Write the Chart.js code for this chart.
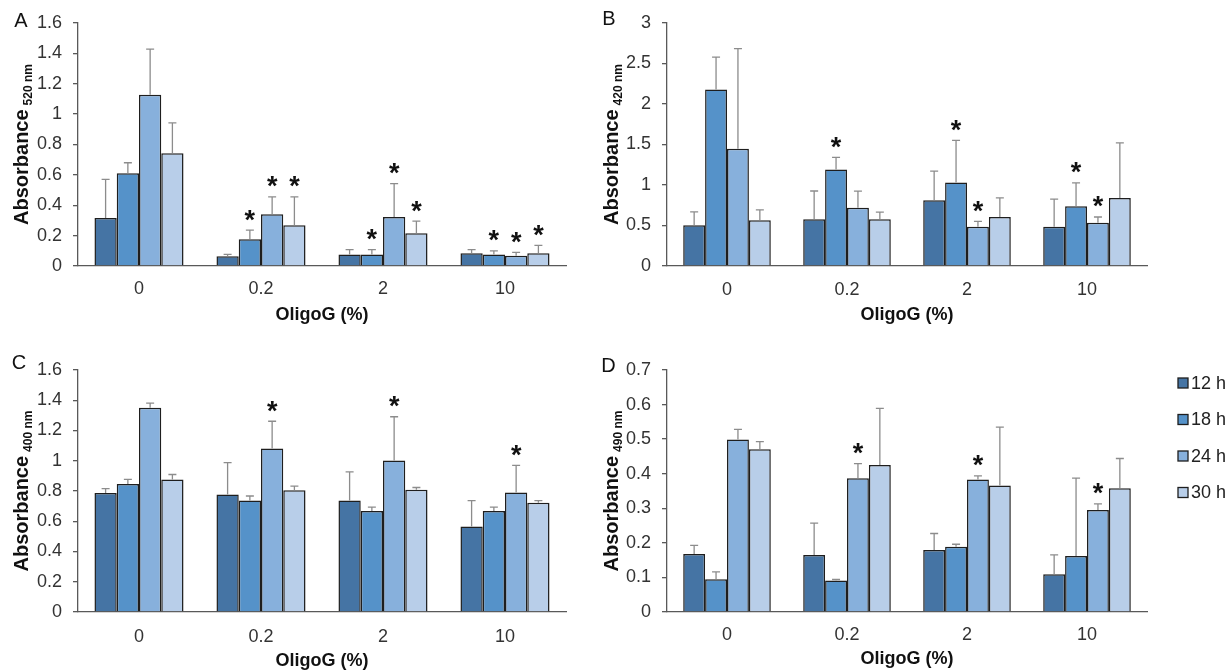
<!DOCTYPE html>
<html>
<head>
<meta charset="utf-8">
<title>OligoG absorbance</title>
<script src="https://cdn.jsdelivr.net/npm/chart.js@4.4.1/dist/chart.umd.min.js"></script>
<style>
  html, body { margin: 0; padding: 0; background: #fff; }
  body { width: 1231px; height: 672px; position: relative; overflow: hidden; }
  canvas { position: absolute; }
</style>
</head>
<body>
<canvas id="chartA" width="580" height="330" style="left:0;top:0"></canvas>
<canvas id="chartB" width="580" height="330" style="left:590px;top:0"></canvas>
<canvas id="chartC" width="580" height="337" style="left:0;top:335px"></canvas>
<canvas id="chartD" width="641" height="337" style="left:590px;top:335px"></canvas>
<script>
Chart.defaults.font.family = "'Liberation Sans', Arial, sans-serif";
Chart.defaults.color = '#333';
Chart.defaults.animation = false;

const FONT = "'Liberation Sans', Arial, sans-serif";

const oligoLevels = ['0', '0.2', '2', '10'];
const timePoints = ['12 h', '18 h', '24 h', '30 h'];
const barColors = ['#4574a4', '#5592c9', '#87b0dc', '#b8cee9'];

// rows = time point (12, 18, 24, 30 h), columns = OligoG level
// A - 520 nm
const meanA = [
  [0.316, 0.065, 0.075, 0.084],
  [0.61, 0.176, 0.075, 0.075],
  [1.128, 0.34, 0.323, 0.068],
  [0.742, 0.268, 0.215, 0.084]
];
const errA = [
  [0.255, 0.012, 0.033, 0.024],
  [0.07, 0.06, 0.033, 0.024],
  [0.30, 0.115, 0.22, 0.022],
  [0.20, 0.187, 0.08, 0.052]
];
const starA = [[0, 0, 0, 0], [0, 1, 1, 1], [0, 1, 1, 1], [0, 1, 1, 1]];
const ticksA = [0, 0.2, 0.4, 0.6, 0.8, 1, 1.2, 1.4, 1.6];

// B - 420 nm
const meanB = [
  [0.502, 0.576, 0.811, 0.486],
  [2.178, 1.19, 1.03, 0.737],
  [1.449, 0.72, 0.486, 0.535],
  [0.564, 0.576, 0.605, 0.84]
];
const errB = [
  [0.165, 0.35, 0.36, 0.34],
  [0.40, 0.15, 0.52, 0.29],
  [1.235, 0.205, 0.066, 0.07],
  [0.13, 0.09, 0.235, 0.68]
];
const starB = [[0, 0, 0, 0], [0, 1, 1, 1], [0, 0, 1, 1], [0, 0, 0, 0]];
const ticksB = [0, 0.5, 1, 1.5, 2, 2.5, 3];

// C - 400 nm
const meanC = [
  [0.786, 0.777, 0.737, 0.566],
  [0.847, 0.737, 0.667, 0.667],
  [1.351, 1.081, 1.001, 0.79],
  [0.876, 0.805, 0.808, 0.722]
];
const errC = [
  [0.03, 0.21, 0.19, 0.17],
  [0.03, 0.03, 0.026, 0.026],
  [0.03, 0.18, 0.29, 0.18],
  [0.033, 0.027, 0.015, 0.015]
];
const starC = [[0, 0, 0, 0], [0, 0, 0, 0], [0, 1, 1, 1], [0, 0, 0, 0]];
const ticksC = [0, 0.2, 0.4, 0.6, 0.8, 1, 1.2, 1.4, 1.6];

// D - 490 nm
const meanD = [
  [0.168, 0.165, 0.179, 0.109],
  [0.095, 0.091, 0.189, 0.162],
  [0.499, 0.387, 0.383, 0.295],
  [0.471, 0.425, 0.366, 0.358]
];
const errD = [
  [0.025, 0.092, 0.048, 0.056],
  [0.021, 0.003, 0.007, 0.225],
  [0.029, 0.042, 0.011, 0.018],
  [0.022, 0.164, 0.169, 0.086]
];
const starD = [[0, 0, 0, 0], [0, 0, 0, 0], [0, 1, 1, 1], [0, 0, 0, 0]];
const ticksD = [0, 0.1, 0.2, 0.3, 0.4, 0.5, 0.6, 0.7];

// error bars (upper only) + significance asterisks
const errorBars = {
  id: 'errorBars',
  afterDatasetsDraw(chart) {
    const { ctx } = chart;
    const y = chart.scales.y;
    ctx.save();
    chart.data.datasets.forEach((ds, i) => {
      chart.getDatasetMeta(i).data.forEach((bar, j) => {
        const yTop = y.getPixelForValue(ds.data[j] + ds.errors[j]);
        ctx.strokeStyle = '#8c8c8c';
        ctx.lineWidth = 1.3;
        ctx.beginPath();
        ctx.moveTo(bar.x, bar.y);
        ctx.lineTo(bar.x, yTop);
        ctx.moveTo(bar.x - 4, yTop);
        ctx.lineTo(bar.x + 4, yTop);
        ctx.stroke();
        if (ds.stars[j]) {
          ctx.fillStyle = '#111';
          ctx.font = 'bold 27px ' + FONT;
          ctx.textAlign = 'center';
          ctx.textBaseline = 'middle';
          ctx.fillText('*', bar.x, yTop - 9);
        }
      });
    });
    ctx.restore();
  }
};

// panel letter and y title with subscript wavelength
const panelText = {
  id: 'panelText',
  afterDraw(chart, args, opts) {
    const { ctx, chartArea } = chart;
    ctx.save();
    ctx.fillStyle = '#111';
    ctx.font = '20px ' + FONT;
    ctx.textAlign = 'center';
    ctx.textBaseline = 'middle';
    ctx.fillText(opts.letter, opts.letterPos[0], opts.letterPos[1]);

    const main = 'Absorbance';
    const mainFont = 'bold 20px ' + FONT;
    const subFont = 'bold 12px ' + FONT;
    ctx.font = mainFont;
    const w1 = ctx.measureText(main).width;
    ctx.font = subFont;
    const w2 = ctx.measureText(opts.sub).width;
    const total = w1 + 4 + w2;
    ctx.translate(opts.titleX, (chartArea.top + chartArea.bottom) / 2);
    ctx.rotate(-Math.PI / 2);
    ctx.textAlign = 'left';
    ctx.textBaseline = 'alphabetic';
    ctx.font = mainFont;
    ctx.fillText(main, -total / 2, 0);
    ctx.font = subFont;
    ctx.fillText(opts.sub, -total / 2 + w1 + 4, 4);
    ctx.restore();
  }
};

// legend to the right of panel D
const keyBox = {
  id: 'keyBox',
  afterDraw(chart, args, opts) {
    if (!opts.show) return;
    const { ctx, chartArea } = chart;
    ctx.save();
    ctx.font = '18px ' + FONT;
    ctx.textAlign = 'left';
    ctx.textBaseline = 'middle';
    chart.data.datasets.forEach((ds, i) => {
      const x = chartArea.right + 31;
      const yc = chartArea.top + 13 + i * 36.5;
      ctx.fillStyle = ds.backgroundColor;
      ctx.fillRect(x, yc - 5, 10, 10);
      ctx.strokeStyle = '#1e1e1e';
      ctx.lineWidth = 1.3;
      ctx.strokeRect(x, yc - 5, 10, 10);
      ctx.fillStyle = '#222';
      ctx.fillText(ds.label, x + 13, yc + 1);
    });
    ctx.restore();
  }
};

function buildDatasets(means, errs, stars) {
  return timePoints.map((label, i) => ({
    label: label,
    data: means[i],
    errors: errs[i],
    stars: stars[i],
    backgroundColor: barColors[i],
    borderColor: '#1e1e1e',
    borderWidth: 1.5,
    categoryPercentage: 0.73,
    barPercentage: 1
  }));
}

function createPanel(canvasId, p) {
  const canvas = document.getElementById(canvasId);
  if (!canvas) return null;

  return new Chart(canvas.getContext('2d'), {
    type: 'bar',
    data: {
      labels: oligoLevels,
      datasets: buildDatasets(p.means, p.errs, p.stars)
    },
    options: {
      responsive: false,
      layout: {
        padding: { top: p.area.top, right: canvas.width - p.area.right, left: 0, bottom: 0 }
      },
      plugins: {
        legend: { display: false },
        tooltip: { enabled: false },
        panelText: { letter: p.letter, letterPos: p.letterPos, sub: p.sub, titleX: 28 },
        keyBox: { show: !!p.legend }
      },
      scales: {
        x: {
          grid: { display: false },
          border: { display: true, color: '#595959', width: 1.3 },
          ticks: { font: { size: 18 }, color: '#333', padding: p.tickPad },
          title: {
            display: true,
            text: 'OligoG (%)',
            color: '#111',
            font: { size: 18, weight: 'bold' },
            padding: { top: 0, bottom: p.titlePad }
          },
          afterFit: function(scale) {
            scale.height = canvas.height - p.area.bottom;
          }
        },
        y: {
          min: 0,
          max: p.ticks[p.ticks.length - 1],
          afterBuildTicks: function(scale) {
            scale.ticks = p.ticks.map(v => ({ value: v }));
          },
          ticks: {
            font: { size: 18 },
            color: '#333',
            padding: 11,
            callback: function(value) {
              return String(value);
            }
          },
          grid: { drawOnChartArea: false, drawTicks: true, tickLength: 5, color: '#595959', lineWidth: 1.3 },
          border: { display: true, color: '#595959', width: 1.3 },
          afterFit: function(scale) {
            scale.width = p.area.left;
          }
        }
      }
    },
    plugins: [errorBars, panelText, keyBox]
  });
}

createPanel('chartA', {
  means: meanA, errs: errA, stars: starA, ticks: ticksA,
  letter: 'A', letterPos: [21, 21], sub: '520 nm',
  area: { left: 78, right: 566, top: 23, bottom: 266 },
  tickPad: 4, titlePad: 4
});

createPanel('chartB', {
  means: meanB, errs: errB, stars: starB, ticks: ticksB,
  letter: 'B', letterPos: [19, 19], sub: '420 nm',
  area: { left: 77, right: 557, top: 23, bottom: 266 },
  tickPad: 5, titlePad: 4
});

createPanel('chartC', {
  means: meanC, errs: errC, stars: starC, ticks: ticksC,
  letter: 'C', letterPos: [19, 28], sub: '400 nm',
  area: { left: 78, right: 566, top: 35, bottom: 277 },
  tickPad: 6, titlePad: 0
});

createPanel('chartD', {
  means: meanD, errs: errD, stars: starD, ticks: ticksD,
  letter: 'D', letterPos: [18.5, 31.5], sub: '490 nm',
  area: { left: 77, right: 557, top: 35, bottom: 277 },
  tickPad: 4, titlePad: 2.6, legend: true
});
</script>
</body>
</html>
